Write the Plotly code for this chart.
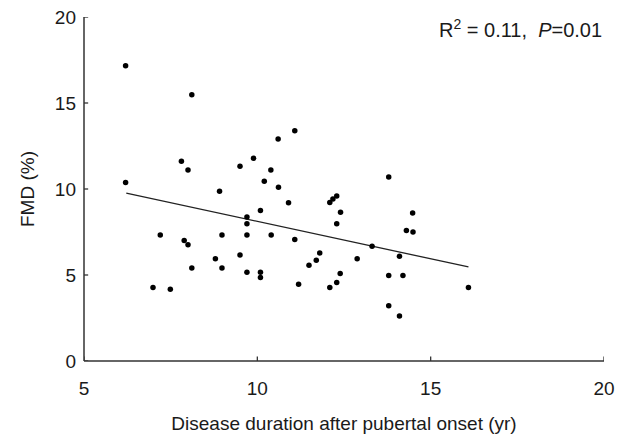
import plotly.graph_objects as go

# disease duration after pubertal onset (yr) vs FMD (%)
duration = [6.20, 8.11, 10.60, 11.08, 7.81, 8.00, 9.50, 9.89, 10.39, 10.20,
            10.61, 6.20, 8.91, 10.09, 9.70, 9.70, 7.20, 8.98, 9.70, 10.40,
            7.89, 8.00, 8.79, 9.50, 8.11, 8.98, 9.70, 10.09, 10.09, 6.99,
            7.49, 10.90, 13.79, 12.09, 12.18, 12.29, 12.40, 12.29, 14.48, 14.30,
            14.49, 11.08, 11.80, 11.70, 11.49, 12.88, 13.31, 14.10, 12.39, 12.29,
            12.09, 11.19, 13.79, 14.20, 13.79, 14.10, 16.09]
fmd = [17.16, 15.48, 12.91, 13.39, 11.61, 11.11, 11.32, 11.79, 11.11, 10.45,
       10.10, 10.38, 9.87, 8.75, 8.37, 7.98, 7.32, 7.32, 7.32, 7.32,
       7.01, 6.76, 5.95, 6.16, 5.41, 5.41, 5.16, 5.16, 4.86, 4.27,
       4.17, 9.20, 10.70, 9.22, 9.42, 9.60, 8.65, 7.98, 8.60, 7.59,
       7.50, 7.07, 6.28, 5.86, 5.57, 5.95, 6.67, 6.09, 5.08, 4.56,
       4.27, 4.46, 4.97, 4.97, 3.21, 2.61, 4.27]

# regression line end points as drawn
fit_x = [6.22, 16.09]
fit_y = [9.76, 5.47]

x_ticks = [5, 10, 15, 20]
y_ticks = [0, 5, 10, 15, 20]

font = "Arial, Liberation Sans, sans-serif"
axis_col = '#333333'

fig = go.Figure()

fig.add_trace(go.Scatter(
    x=fit_x, y=fit_y,
    mode='lines',
    line=dict(color='#222222', width=1.3),
    showlegend=False
))

fig.add_trace(go.Scatter(
    x=duration, y=fmd,
    mode='markers',
    marker=dict(color='black', size=5.5),
    showlegend=False
))

# axis lines and inside ticks drawn as shapes so they always show
fig.add_shape(type='line', xref='paper', yref='paper', x0=0, x1=1, y0=0, y1=0,
              line=dict(color=axis_col, width=1.5), layer='above')
fig.add_shape(type='line', xref='paper', yref='paper', x0=0, x1=0, y0=0, y1=1,
              line=dict(color=axis_col, width=1.5), layer='above')
for t in x_ticks:
    fig.add_shape(type='line', xref='x', yref='paper', x0=t, x1=t, y0=0, y1=0.013,
                  line=dict(color=axis_col, width=1.3), layer='above')
for t in y_ticks:
    fig.add_shape(type='line', xref='paper', yref='y', x0=0, x1=0.008, y0=t, y1=t,
                  line=dict(color=axis_col, width=1.3), layer='above')

fig.add_annotation(
    x=1, y=1, xref='paper', yref='paper',
    xanchor='right', yanchor='middle',
    xshift=0, yshift=-11,
    text="R<sup>2</sup> = 0.11,  <i>P</i>=0.01",
    showarrow=False,
    font=dict(family=font, size=20, color='#1a1a1a')
)

fig.update_xaxes(
    range=[5, 20],
    tickvals=x_ticks,
    ticks='', showline=False,
    showgrid=False, zeroline=False,
    ticklabelstandoff=14,
    ticklabeloverflow='allow',
    tickfont=dict(family=font, size=19, color='#1a1a1a'),
    title=dict(text='Disease duration after pubertal onset (yr)',
               font=dict(family=font, size=19, color='#1a1a1a'),
               standoff=18)
)

fig.update_yaxes(
    range=[0, 20],
    tickvals=y_ticks,
    ticks='', showline=False,
    showgrid=False, zeroline=False,
    ticklabelstandoff=7,
    ticklabeloverflow='allow',
    tickfont=dict(family=font, size=19, color='#1a1a1a'),
    title=dict(text='FMD (%)',
               font=dict(family=font, size=19, color='#1a1a1a'),
               standoff=15)
)

fig.update_layout(
    width=621, height=446,
    margin=dict(l=84, r=17, t=17, b=85, autoexpand=False),
    plot_bgcolor='white',
    paper_bgcolor='white'
)

# drop the default body margin so the figure sits at the window corner
fig.write_html("out.html",
               config={'displayModeBar': False},
               post_script="document.body.style.margin='0';")
